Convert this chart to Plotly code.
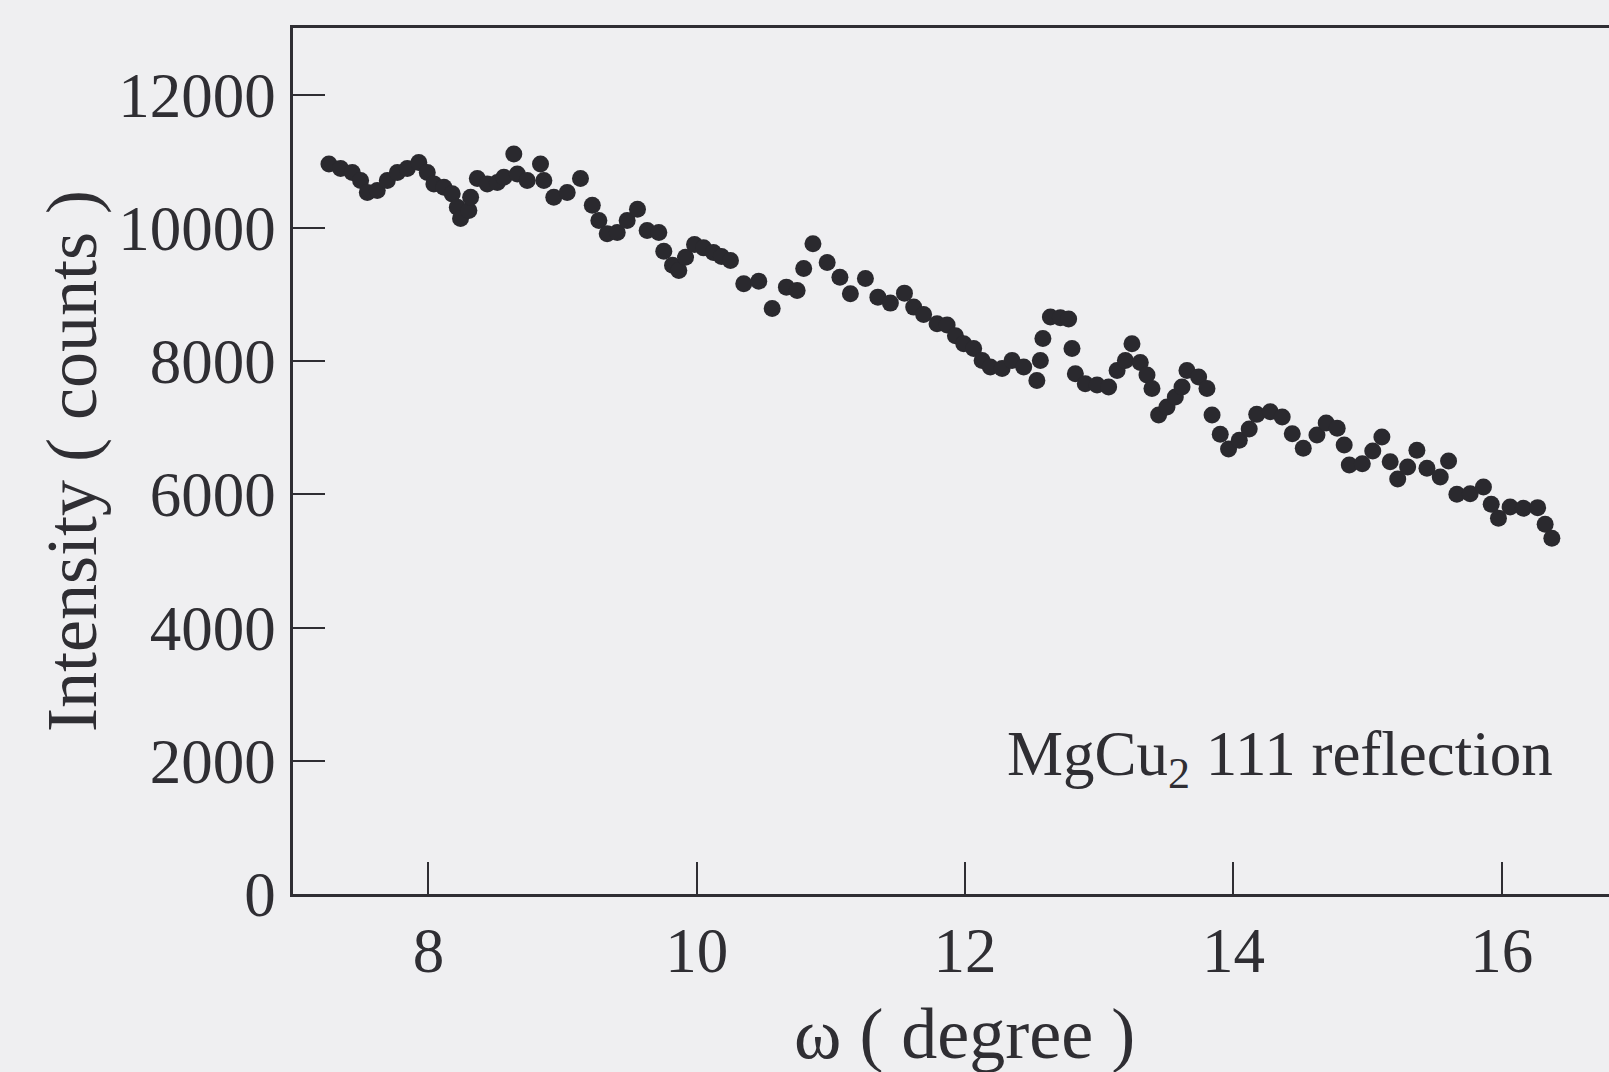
import plotly.graph_objects as go

# omega (degree) values
omega = [
    7.258, 7.345, 7.432, 7.494, 7.544, 7.618, 7.693, 7.768, 7.842, 7.928,
    7.991, 8.040, 8.115, 8.177, 8.215, 8.239, 8.301, 8.314, 8.364, 8.438,
    8.513, 8.562, 8.636, 8.662, 8.736, 8.835, 8.860, 8.934, 9.034, 9.133,
    9.221, 9.270, 9.332, 9.407, 9.481, 9.558, 9.630, 9.717, 9.754, 9.819,
    9.866, 9.916, 9.983, 10.050, 10.124, 10.184, 10.251, 10.350, 10.462, 10.562,
    10.668, 10.748, 10.797, 10.866, 10.972, 11.067, 11.145, 11.257, 11.350, 11.443,
    11.548, 11.617, 11.691, 11.791, 11.866, 11.928, 11.990, 12.064, 12.127, 12.188,
    12.276, 12.350, 12.437, 12.535, 12.561, 12.580, 12.636, 12.710, 12.772, 12.797,
    12.822, 12.896, 12.984, 13.070, 13.133, 13.195, 13.244, 13.306, 13.356, 13.393,
    13.443, 13.505, 13.567, 13.617, 13.654, 13.741, 13.803, 13.841, 13.902, 13.964,
    14.044, 14.118, 14.174, 14.275, 14.364, 14.439, 14.521, 14.623, 14.692, 14.774,
    14.826, 14.864, 14.961, 15.039, 15.107, 15.169, 15.225, 15.299, 15.368, 15.443,
    15.542, 15.604, 15.666, 15.765, 15.864, 15.922, 15.976, 16.063, 16.162, 16.268,
    16.324, 16.374,
]

# intensity (counts) values
intensity = [
    10960, 10890, 10830, 10710, 10530, 10560, 10710, 10830, 10890, 10980,
    10830, 10660, 10610, 10510, 10310, 10140, 10260, 10460, 10740, 10660,
    10680, 10760, 11110, 10810, 10710, 10960, 10710, 10460, 10530, 10740,
    10340, 10110, 9910, 9930, 10110, 10280, 9960, 9930, 9650, 9440,
    9360, 9560, 9750, 9700, 9630, 9570, 9510, 9160, 9200, 8790,
    9110, 9060, 9390, 9760, 9480, 9260, 9010, 9240, 8960, 8870,
    9020, 8810, 8700, 8560, 8540, 8380, 8260, 8190, 8010, 7910,
    7890, 8010, 7910, 7710, 8010, 8340, 8660, 8650, 8630, 8190,
    7810, 7660, 7640, 7610, 7860, 8010, 8260, 7980, 7790, 7590,
    7190, 7310, 7460, 7610, 7860, 7760, 7590, 7190, 6900, 6680,
    6810, 6980, 7200, 7240, 7160, 6910, 6690, 6890, 7070, 6990,
    6740, 6440, 6460, 6650, 6860, 6490, 6230, 6410, 6660, 6390,
    6260, 6500, 6000, 6010, 6110, 5850, 5640, 5810, 5790, 5800,
    5550, 5340,
]

x_ticks = [8, 10, 12, 14, 16]
y_ticks = [0, 2000, 4000, 6000, 8000, 10000, 12000]

FONT = "Liberation Serif"
INK = "#2f2e33"
BG = "#efeff1"

fig = go.Figure()
fig.add_trace(go.Scatter(
    x=omega, y=intensity, mode="markers",
    marker=dict(size=17, color="#2a292e", line=dict(width=0)),
    showlegend=False, hoverinfo="x+y",
))

fig.update_layout(
    width=1609, height=1072,
    margin=dict(l=293, r=0, t=28, b=178),
    paper_bgcolor=BG, plot_bgcolor=BG,
    font=dict(family=FONT, size=62, color=INK),
)

fig.update_xaxes(
    range=[6.99, 16.80], tickvals=x_ticks, ticktext=[str(v) for v in x_ticks],
    ticks="inside", ticklen=32, tickwidth=2, tickcolor=INK,
    showline=True, linecolor=INK, linewidth=2.5, mirror=True,
    showgrid=False, zeroline=False, ticklabelstandoff=0,
    tickfont=dict(family=FONT, size=63, color=INK),
)
fig.update_yaxes(
    range=[0, 13000], tickvals=y_ticks, ticktext=[str(v) for v in y_ticks],
    ticks="inside", ticklen=32, tickwidth=2, tickcolor=INK,
    showline=True, linecolor=INK, linewidth=2.5, mirror=False,
    showgrid=False, zeroline=False, ticklabelstandoff=2,
    tickfont=dict(family=FONT, size=63, color=INK),
)

fig.add_annotation(
    xref="paper", yref="paper", x=-0.168, y=0.5, xanchor="center", yanchor="middle",
    text="Intensity ( counts )", textangle=-90, showarrow=False,
    font=dict(family=FONT, size=72, color=INK),
)
fig.add_annotation(
    xref="paper", yref="paper", x=0.5106, y=-0.162, xanchor="center", yanchor="middle",
    text="ω ( degree )", showarrow=False,
    font=dict(family=FONT, size=72, color=INK),
)
fig.add_annotation(
    xref="paper", yref="paper", x=0.959, y=0.157, xanchor="right", yanchor="middle",
    text="MgCu<sub>2</sub> 111 reflection", showarrow=False,
    font=dict(family=FONT, size=63, color=INK),
)

fig.write_html("out.html")
